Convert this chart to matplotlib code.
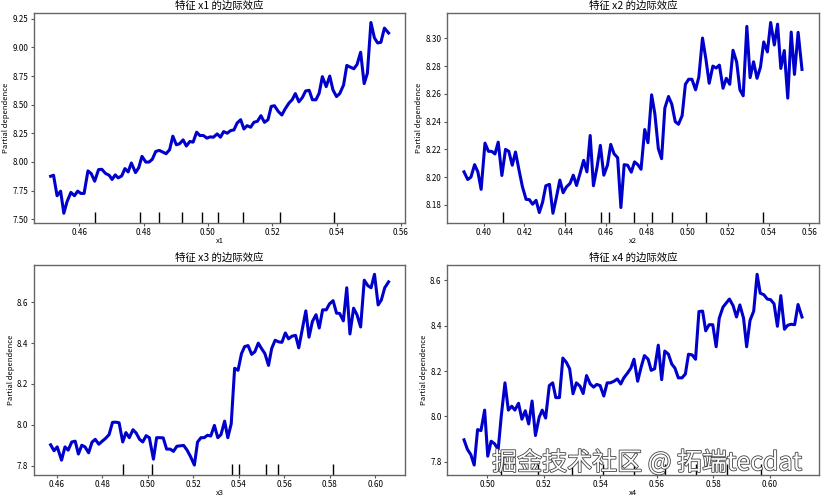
import matplotlib
matplotlib.use("Agg")
import matplotlib.pyplot as plt
import matplotlib.patheffects as pe
from matplotlib.ticker import MultipleLocator

plt.rcParams['font.family'] = ['Noto Sans CJK SC', 'DejaVu Sans']

# partial dependence curves
x1_grid = [0.4511, 0.4520, 0.4531, 0.4542, 0.4552, 0.4562, 0.4574, 0.4585, 0.4595, 0.4605,
           0.4615, 0.4627, 0.4637, 0.4648, 0.4660, 0.4670, 0.4682, 0.4693, 0.4702, 0.4712,
           0.4721, 0.4732, 0.4742, 0.4752, 0.4762, 0.4775, 0.4785, 0.4795, 0.4807, 0.4817,
           0.4827, 0.4838, 0.4849, 0.4860, 0.4870, 0.4881, 0.4891, 0.4902, 0.4912, 0.4923,
           0.4933, 0.4944, 0.4954, 0.4965, 0.4975, 0.4986, 0.4997, 0.5007, 0.5017, 0.5029,
           0.5039, 0.5049, 0.5060, 0.5071, 0.5081, 0.5091, 0.5102, 0.5112, 0.5122, 0.5133,
           0.5143, 0.5154, 0.5165, 0.5176, 0.5187, 0.5197, 0.5207, 0.5219, 0.5230, 0.5240,
           0.5252, 0.5262, 0.5272, 0.5283, 0.5294, 0.5304, 0.5315, 0.5325, 0.5336, 0.5346,
           0.5356, 0.5368, 0.5379, 0.5389, 0.5400, 0.5410, 0.5422, 0.5432, 0.5443, 0.5454,
           0.5464, 0.5475, 0.5486, 0.5496, 0.5507, 0.5518, 0.5528, 0.5538, 0.5549, 0.5562]
x1_pd = [7.875, 7.884, 7.705, 7.745, 7.552, 7.653, 7.734, 7.705, 7.745, 7.725,
         7.725, 7.922, 7.899, 7.832, 7.933, 7.936, 7.899, 7.884, 7.847, 7.887,
         7.861, 7.878, 7.942, 7.913, 7.991, 7.907, 7.950, 8.049, 7.999, 7.999,
         8.023, 8.092, 8.101, 8.086, 8.072, 8.107, 8.225, 8.150, 8.159, 8.193,
         8.139, 8.179, 8.173, 8.260, 8.231, 8.231, 8.208, 8.219, 8.216, 8.245,
         8.216, 8.265, 8.251, 8.274, 8.280, 8.340, 8.369, 8.288, 8.317, 8.303,
         8.346, 8.355, 8.404, 8.346, 8.369, 8.485, 8.491, 8.441, 8.410, 8.462,
         8.514, 8.543, 8.597, 8.525, 8.563, 8.620, 8.626, 8.543, 8.543, 8.600,
         8.745, 8.658, 8.750, 8.629, 8.571, 8.597, 8.672, 8.843, 8.828, 8.814,
         8.852, 8.958, 8.684, 8.774, 9.218, 9.083, 9.039, 9.045, 9.169, 9.126]
x1_deciles = [0.4648, 0.4789, 0.4847, 0.4920, 0.4982, 0.5031, 0.5108, 0.5225, 0.5391]

x2_grid = [0.3903, 0.3921, 0.3937, 0.3955, 0.3971, 0.3987, 0.4006, 0.4023, 0.4039, 0.4055,
           0.4071, 0.4089, 0.4107, 0.4123, 0.4140, 0.4156, 0.4175, 0.4190, 0.4208, 0.4224,
           0.4240, 0.4257, 0.4273, 0.4289, 0.4305, 0.4323, 0.4340, 0.4356, 0.4374, 0.4390,
           0.4406, 0.4424, 0.4440, 0.4456, 0.4474, 0.4491, 0.4507, 0.4523, 0.4539, 0.4557,
           0.4573, 0.4590, 0.4608, 0.4624, 0.4640, 0.4658, 0.4674, 0.4690, 0.4707, 0.4725,
           0.4741, 0.4757, 0.4773, 0.4791, 0.4807, 0.4825, 0.4841, 0.4858, 0.4874, 0.4890,
           0.4908, 0.4924, 0.4941, 0.4957, 0.4975, 0.4991, 0.5007, 0.5023, 0.5041, 0.5057,
           0.5075, 0.5092, 0.5108, 0.5126, 0.5142, 0.5158, 0.5176, 0.5192, 0.5209, 0.5225,
           0.5243, 0.5259, 0.5275, 0.5293, 0.5309, 0.5326, 0.5343, 0.5360, 0.5376, 0.5394,
           0.5410, 0.5428, 0.5444, 0.5460, 0.5477, 0.5494, 0.5511, 0.5527, 0.5545, 0.5564]
x2_pd = [8.2038, 8.1983, 8.2000, 8.2090, 8.2038, 8.1912, 8.2245, 8.2186, 8.2186, 8.2167,
         8.2252, 8.2012, 8.2200, 8.2186, 8.2086, 8.2181, 8.2038, 8.1931, 8.1840, 8.1838,
         8.1805, 8.1833, 8.1745, 8.1819, 8.1938, 8.1948, 8.1740, 8.1848, 8.1979, 8.1888,
         8.1929, 8.1955, 8.2014, 8.1940, 8.2031, 8.2121, 8.2038, 8.2300, 8.1938, 8.2074,
         8.2229, 8.2014, 8.2086, 8.2236, 8.2169, 8.2140, 8.1781, 8.2090, 8.2086, 8.2036,
         8.2110, 8.2090, 8.2057, 8.2343, 8.2248, 8.2593, 8.2455, 8.2205, 8.2133, 8.2498,
         8.2581, 8.2526, 8.2400, 8.2381, 8.2443, 8.2669, 8.2705, 8.2705, 8.2629, 8.2721,
         8.3002, 8.2848, 8.2676, 8.2800, 8.2786, 8.2807, 8.2640, 8.2712, 8.2669, 8.2914,
         8.2829, 8.2629, 8.2586, 8.3086, 8.2717, 8.2831, 8.2712, 8.2793, 8.2974, 8.2902,
         8.3114, 8.2952, 8.3102, 8.2783, 8.2912, 8.2569, 8.3045, 8.2740, 8.3043, 8.2776]
x2_deciles = [0.4094, 0.4401, 0.4578, 0.4616, 0.4739, 0.4825, 0.4923, 0.5092, 0.5371]

x3_grid = [0.4572, 0.4587, 0.4601, 0.4620, 0.4635, 0.4649, 0.4665, 0.4680, 0.4694, 0.4709,
           0.4723, 0.4739, 0.4754, 0.4768, 0.4784, 0.4799, 0.4813, 0.4829, 0.4844, 0.4858,
           0.4873, 0.4889, 0.4903, 0.4918, 0.4934, 0.4948, 0.4963, 0.4977, 0.4992, 0.5006,
           0.5024, 0.5038, 0.5053, 0.5067, 0.5082, 0.5098, 0.5112, 0.5127, 0.5141, 0.5157,
           0.5172, 0.5186, 0.5204, 0.5218, 0.5233, 0.5247, 0.5262, 0.5276, 0.5292, 0.5307,
           0.5321, 0.5337, 0.5351, 0.5366, 0.5381, 0.5396, 0.5411, 0.5425, 0.5440, 0.5456,
           0.5470, 0.5485, 0.5499, 0.5514, 0.5530, 0.5544, 0.5559, 0.5575, 0.5589, 0.5604,
           0.5618, 0.5633, 0.5649, 0.5663, 0.5679, 0.5694, 0.5708, 0.5723, 0.5739, 0.5753,
           0.5768, 0.5784, 0.5798, 0.5814, 0.5829, 0.5843, 0.5859, 0.5874, 0.5888, 0.5904,
           0.5919, 0.5935, 0.5951, 0.5967, 0.5981, 0.5996, 0.6012, 0.6026, 0.6041, 0.6058]
x3_pd = [7.902, 7.873, 7.892, 7.827, 7.892, 7.876, 7.916, 7.920, 7.857, 7.900,
         7.892, 7.863, 7.915, 7.929, 7.905, 7.920, 7.933, 7.952, 8.012, 8.013,
         8.010, 7.916, 7.962, 7.937, 7.976, 7.960, 7.929, 7.916, 7.947, 7.937,
         7.832, 7.937, 7.937, 7.936, 7.881, 7.881, 7.870, 7.895, 7.897, 7.899,
         7.876, 7.847, 7.803, 7.916, 7.937, 7.937, 7.949, 7.945, 7.997, 7.937,
         7.952, 8.018, 7.937, 8.005, 8.277, 8.267, 8.348, 8.383, 8.388, 8.345,
         8.358, 8.400, 8.374, 8.349, 8.291, 8.374, 8.414, 8.406, 8.404, 8.450,
         8.421, 8.434, 8.438, 8.377, 8.471, 8.558, 8.429, 8.506, 8.539, 8.474,
         8.563, 8.563, 8.592, 8.608, 8.547, 8.545, 8.509, 8.671, 8.445, 8.571,
         8.539, 8.479, 8.708, 8.681, 8.671, 8.737, 8.587, 8.611, 8.671, 8.700]
x3_deciles = [0.4889, 0.5016, 0.5370, 0.5401, 0.5520, 0.5573, 0.5813]

x4_grid = [0.4918, 0.4930, 0.4942, 0.4954, 0.4966, 0.4978, 0.4991, 0.5002, 0.5014, 0.5026,
           0.5039, 0.5050, 0.5063, 0.5075, 0.5087, 0.5098, 0.5111, 0.5123, 0.5135, 0.5147,
           0.5159, 0.5171, 0.5184, 0.5195, 0.5207, 0.5220, 0.5232, 0.5243, 0.5256, 0.5268,
           0.5280, 0.5292, 0.5304, 0.5316, 0.5329, 0.5340, 0.5352, 0.5365, 0.5377, 0.5388,
           0.5400, 0.5413, 0.5425, 0.5436, 0.5449, 0.5461, 0.5473, 0.5484, 0.5497, 0.5509,
           0.5520, 0.5533, 0.5545, 0.5557, 0.5570, 0.5581, 0.5593, 0.5606, 0.5618, 0.5629,
           0.5642, 0.5654, 0.5665, 0.5677, 0.5690, 0.5702, 0.5713, 0.5726, 0.5738, 0.5750,
           0.5763, 0.5774, 0.5786, 0.5799, 0.5811, 0.5822, 0.5835, 0.5847, 0.5858, 0.5871,
           0.5883, 0.5895, 0.5908, 0.5919, 0.5931, 0.5944, 0.5956, 0.5967, 0.5980, 0.5992,
           0.6004, 0.6016, 0.6028, 0.6040, 0.6053, 0.6064, 0.6076, 0.6089, 0.6101, 0.6115]
x4_pd = [7.897, 7.855, 7.832, 7.786, 7.942, 7.938, 8.028, 7.825, 7.891, 7.880,
         7.855, 8.003, 8.148, 8.028, 8.045, 8.028, 8.058, 7.988, 8.025, 7.967,
         8.068, 7.916, 7.996, 8.028, 7.993, 8.136, 8.148, 8.083, 8.083, 8.257,
         8.239, 8.210, 8.100, 8.148, 8.133, 8.101, 8.180, 8.143, 8.129, 8.141,
         8.136, 8.090, 8.148, 8.148, 8.155, 8.165, 8.143, 8.170, 8.191, 8.213,
         8.252, 8.155, 8.216, 8.268, 8.252, 8.203, 8.210, 8.314, 8.162, 8.288,
         8.274, 8.230, 8.213, 8.170, 8.170, 8.187, 8.274, 8.271, 8.252, 8.462,
         8.464, 8.377, 8.404, 8.404, 8.307, 8.433, 8.481, 8.500, 8.517, 8.488,
         8.438, 8.491, 8.433, 8.307, 8.423, 8.464, 8.626, 8.543, 8.536, 8.517,
         8.514, 8.496, 8.397, 8.532, 8.384, 8.401, 8.406, 8.404, 8.493, 8.438]
x4_deciles = [0.5050, 0.5180, 0.5300, 0.5410, 0.5520, 0.5630, 0.5740, 0.5850, 0.5970]

features = ['x1', 'x2', 'x3', 'x4']
grids = [x1_grid, x2_grid, x3_grid, x4_grid]
curves = [x1_pd, x2_pd, x3_pd, x4_pd]
deciles = [x1_deciles, x2_deciles, x3_deciles, x4_deciles]
y_steps = [0.25, 0.02, 0.2, 0.2]

fig, axes = plt.subplots(2, 2, figsize=(8.23, 4.98), dpi=100)
fig.subplots_adjust(left=0.041, right=0.995, top=0.974, bottom=0.047,
                    wspace=0.112, hspace=0.2)

for ax, name, xs, ys, dec, step in zip(axes.flat, features, grids, curves, deciles, y_steps):
    ax.plot(xs, ys, color='#0000cd', lw=2.2)
    # decile rug marks along the bottom
    ax.vlines(dec, 0, 0.05, transform=ax.get_xaxis_transform(), color='black', lw=1)
    ax.set_title(f"特征 {name} 的边际效应", fontsize=7.5, pad=3)
    ax.set_xlabel(name, fontsize=5.5, labelpad=0)
    ax.set_ylabel("Partial dependence", fontsize=5.5, labelpad=1.5)
    ax.xaxis.set_major_locator(MultipleLocator(0.02))
    ax.yaxis.set_major_locator(MultipleLocator(step))
    ax.tick_params(labelsize=5.8, length=2.5, pad=1.5, color='#555555')
    for sp in ax.spines.values():
        sp.set_color('#666666')
        sp.set_linewidth(1.0)

# watermark text from the original image
fig.text(0.598, 0.056, "掘金技术社区 @ 拓端tecdat", fontsize=18, color='white',
         path_effects=[pe.withStroke(linewidth=1.2, foreground='#444444')])

plt.savefig("out.png", dpi=100)
plt.close()
